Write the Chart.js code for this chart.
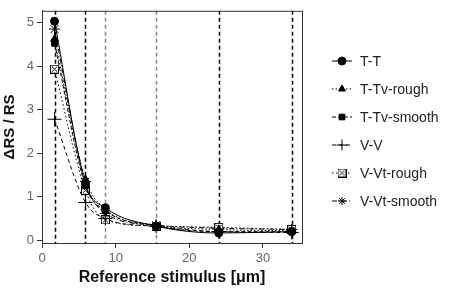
<!DOCTYPE html>
<html>
<head>
<meta charset="utf-8">
<script src="https://cdn.jsdelivr.net/npm/chart.js@4"></script>
<style>
  html, body { margin: 0; padding: 0; background: #fff; }
  #wrap { width: 451px; height: 288px; }
</style>
</head>
<body>
<div id="wrap"><canvas id="chart"></canvas></div>
<script>
// reference stimuli (x) and relative change per condition
const stimuli = [1.7, 5.9, 8.6, 15.5, 24, 33.9]
const seriesNames = ['T-T', 'T-Tv-rough', 'T-Tv-smooth', 'V-V', 'V-Vt-rough', 'V-Vt-smooth']
const tt = [5.03, 1.3, 0.75, 0.33, 0.17, 0.2]
const ttvRough = [4.62, 1.4, 0.72, 0.35, 0.25, 0.22]
const ttvSmooth = [4.52, 1.25, 0.68, 0.33, 0.2, 0.2]
const vv = [2.78, 0.87, 0.5, 0.32, 0.2, 0.18]
const vvtRough = [3.93, 1.15, 0.47, 0.33, 0.3, 0.25]
const vvtSmooth = [4.85, 1.35, 0.62, 0.35, 0.28, 0.25]
const yTicks = [0, 1, 2, 3, 4, 5]
const xTicks = [0, 10, 20, 30]
// dashed guide lines at each stimulus, true = black, false = grey
const guideDark = [true, true, false, false, true, true]

const FONT = '"Liberation Sans", Arial, sans-serif'

// open square with an x inside (marker of V-Vt-rough)
function boxCross(size) {
    const c = document.createElement('canvas')
    c.width = size
    c.height = size
    const g = c.getContext('2d')
    g.fillStyle = '#fff'
    g.fillRect(0, 0, size, size)
    g.strokeStyle = '#000'
    g.lineWidth = 1
    g.strokeRect(0.5, 0.5, size - 1, size - 1)
    g.beginPath()
    g.moveTo(2, 2); g.lineTo(size - 2, size - 2)
    g.moveTo(size - 2, 2); g.lineTo(2, size - 2)
    g.stroke()
    return c
}

const styles = [
    { pointStyle: 'circle', pointRadius: 4, borderDash: [], bg: '#000' },
    { pointStyle: 'triangle', pointRadius: 4.5, borderDash: [1.5, 2], bg: '#000' },
    { pointStyle: 'rect', pointRadius: 4, borderDash: [4, 2], bg: '#000' },
    { pointStyle: 'cross', pointRadius: 7, borderDash: [4, 3], bg: '#000' },
    { pointStyle: boxCross(9), pointRadius: 4.5, borderDash: [1.5, 2.5], bg: '#fff' },
    { pointStyle: 'star', pointRadius: 5.5, borderDash: [5, 2, 1, 2], bg: '#000' },
]
const values = [tt, ttvRough, ttvSmooth, vv, vvtRough, vvtSmooth]

const datasets = seriesNames.map((name, i) => ({
    label: name,
    data: stimuli.map((x, j) => ({ x: x, y: values[i][j] })),
    showLine: true,
    borderColor: '#000',
    backgroundColor: styles[i].bg,
    borderWidth: 1,
    borderDash: styles[i].borderDash,
    pointStyle: styles[i].pointStyle,
    pointRadius: styles[i].pointRadius,
    pointBorderColor: '#000',
    pointBorderWidth: 1,
    cubicInterpolationMode: 'monotone',
}))

// frame, guide lines and legend
const decor = {
    id: 'decor',
    beforeDatasetsDraw(chart) {
        const { ctx, chartArea, scales } = chart
        ctx.save()
        ctx.lineWidth = 1.5
        ctx.setLineDash([4, 3])
        stimuli.forEach((x, i) => {
            const px = Math.round(scales.x.getPixelForValue(x)) + 0.5
            ctx.strokeStyle = guideDark[i] ? '#000' : '#888'
            ctx.beginPath()
            ctx.moveTo(px, chartArea.top)
            ctx.lineTo(px, chartArea.bottom)
            ctx.stroke()
        })
        ctx.restore()
    },
    afterDraw(chart) {
        const { ctx, chartArea } = chart
        ctx.save()
        ctx.strokeStyle = '#333'
        ctx.lineWidth = 1
        ctx.strokeRect(chartArea.left + 0.5, chartArea.top + 0.5,
            chartArea.right - chartArea.left, chartArea.bottom - chartArea.top)

        // legend
        ctx.font = '14px ' + FONT
        ctx.textBaseline = 'middle'
        chart.data.datasets.forEach((ds, i) => {
            const y = 61 + i * 28
            ctx.strokeStyle = '#000'
            ctx.lineWidth = 1
            ctx.setLineDash(ds.borderDash)
            ctx.beginPath()
            ctx.moveTo(332, y)
            ctx.lineTo(352, y)
            ctx.stroke()
            ctx.setLineDash([])
            ctx.fillStyle = ds.backgroundColor
            Chart.helpers.drawPoint(ctx, {
                pointStyle: ds.pointStyle,
                radius: ds.pointStyle === 'cross' ? 5.5 : Math.min(ds.pointRadius, 4),
                borderWidth: 1,
            }, 342, y)
            ctx.fillStyle = '#222'
            ctx.fillText(ds.label, 360, y + 1)
        })
        ctx.restore()
    },
}

new Chart(document.getElementById('chart'), {
    type: 'scatter',
    data: { datasets: datasets },
    plugins: [decor],
    options: {
        responsive: true,
        maintainAspectRatio: false,
        animation: false,
        layout: { padding: { top: 9, right: 149, left: 0, bottom: 0 } },
        plugins: {
            legend: { display: false },
            tooltip: { enabled: false },
        },
        scales: {
            x: {
                type: 'linear',
                min: 0,
                max: 35.3,
                afterBuildTicks: (s) => { s.ticks = xTicks.map(v => ({ value: v })) },
                afterFit: (s) => { s.height = 45 },
                grid: { drawOnChartArea: false, tickLength: 5, color: '#333' },
                border: { color: '#333' },
                ticks: {
                    color: '#666',
                    padding: 3,
                    font: { family: FONT, size: 13 },
                },
                title: {
                    display: true,
                    text: 'Reference stimulus [μm]',
                    color: '#111',
                    padding: { top: 2, bottom: 1 },
                    font: { family: FONT, size: 16, weight: 'bold' },
                },
            },
            y: {
                min: -0.06,
                max: 5.27,
                afterBuildTicks: (s) => { s.ticks = yTicks.map(v => ({ value: v })) },
                afterFit: (s) => { s.width = 42 },
                grid: { drawOnChartArea: false, tickLength: 5, color: '#333' },
                border: { color: '#333' },
                ticks: {
                    color: '#666',
                    padding: 3,
                    font: { family: FONT, size: 13 },
                },
                title: {
                    display: true,
                    text: 'ΔRS / RS',
                    color: '#111',
                    padding: { top: 1, bottom: 0 },
                    font: { family: FONT, size: 15, weight: 'bold' },
                },
            },
        },
    },
})
</script>
</body>
</html>
